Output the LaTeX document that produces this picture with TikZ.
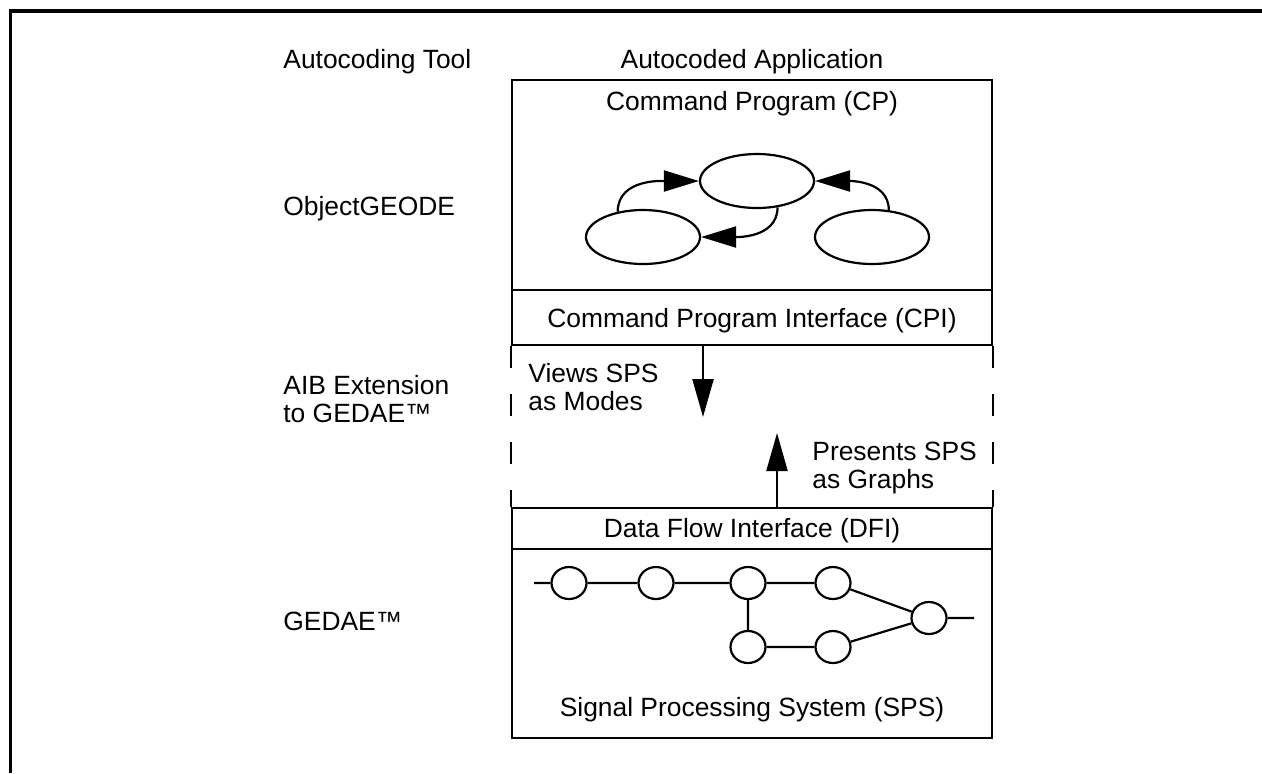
\documentclass[tikz,border=0pt]{standalone}
\usepackage{fontspec}
\setmainfont{Liberation Sans}
\usetikzlibrary{arrows.meta,shapes.geometric}

\begin{document}
\begin{tikzpicture}[x=0.5pt, y=-0.5pt, font=\fontsize{13.2}{14}\selectfont,
    box/.style={draw, rectangle, line width=1.2pt, inner sep=0pt, minimum width=240pt},
    txt/.style={inner sep=0pt, align=left},
    state/.style={draw, ellipse, line width=1.1pt, inner sep=0pt, minimum width=57pt, minimum height=27pt},
    blob/.style={draw, ellipse, line width=1.1pt, inner sep=0pt, minimum width=17.5pt, minimum height=16pt},
    link/.style={line width=1.1pt},
    cparrow/.style={line width=1.1pt, -{Triangle[length=17.5pt, width=10.5pt]}},
    bigarrow/.style={line width=1.1pt, -{Triangle[length=19pt, width=10.5pt]}},
    dashside/.style={line width=1.2pt, dash pattern=on 11pt off 13pt}]
    \useasboundingbox (0,0) rectangle (1262,773);

    % Frame
    \draw[line width=1.6pt] (1262,11) -- (10.5,11) -- (10.5,773);

    % Column headings and tool names
    \node[txt, anchor=base west] (tool) at (283,68) {Autocoding Tool};
    \node[txt, anchor=base] (app) at (752,68) {Autocoded Application};
    \node[txt, anchor=base west] (geode) at (283,215) {ObjectGEODE};
    \node[txt, anchor=base west] (aib) at (283,422) {AIB Extension\\to GEDAE™};
    \node[txt, anchor=base west] (gedae) at (283,630) {GEDAE™};

    % Layer boxes
    \node[box, minimum height=105pt] (cp) at (752,185) {};
    \node[box, minimum height=27.5pt] (cpi) at (752,317.5) {};
    \node[box, minimum height=20.5pt] (dfi) at (752,528.5) {};
    \node[box, minimum height=94.5pt] (sps) at (752,643.5) {};
    \draw[dashside] (cpi.south west) -- (dfi.north west);
    \draw[dashside] (cpi.south east) -- (dfi.north east);

    \node[txt, anchor=base] (cptitle) at (752,110) {Command Program (CP)};
    \node[txt, anchor=base] (cpititle) at (752,327) {Command Program Interface (CPI)};
    \node[txt, anchor=base] (dfititle) at (752,537) {Data Flow Interface (DFI)};
    \node[txt, anchor=base] (spstitle) at (752,716) {Signal Processing System (SPS)};

    % Command program states
    \node[state] (top) at (757,181) {};
    \node[state] (lft) at (643,237) {};
    \node[state] (rgt) at (872,237) {};
    \draw[cparrow] (lft.135) to[out=90, in=180] (top.west);
    \draw[cparrow] (rgt.58) to[out=90, in=0] (top.east);
    \draw[cparrow] (top.-52) to[out=-90, in=0] (lft.east);

    % Interface arrows
    \coordinate (downtip) at (703,417);
    \coordinate (uptip) at (777,433);
    \draw[bigarrow] (cpi.south -| downtip) -- (downtip);
    \draw[bigarrow] (dfi.north -| uptip) -- (uptip);
    \node[txt, anchor=base west] (views) at (528,410) {Views SPS\\as Modes};
    \node[txt, anchor=base west] (presents) at (812,488) {Presents SPS\\as Graphs};

    % Data flow graph
    \node[blob] (n1) at (569,583) {};
    \node[blob] (n2) at (656,583) {};
    \node[blob] (n3) at (748,583) {};
    \node[blob] (n4) at (833,583) {};
    \node[blob] (n5) at (748,647) {};
    \node[blob] (n6) at (833,647) {};
    \node[blob] (n7) at (929,618) {};
    \coordinate (spsin) at (534,583);
    \coordinate (spsout) at (974,618);
    \draw[link] (spsin) -- (n1) -- (n2) -- (n3) -- (n4) -- (n7) -- (spsout);
    \draw[link] (n3) -- (n5) -- (n6) -- (n7);
\end{tikzpicture}
\end{document}
